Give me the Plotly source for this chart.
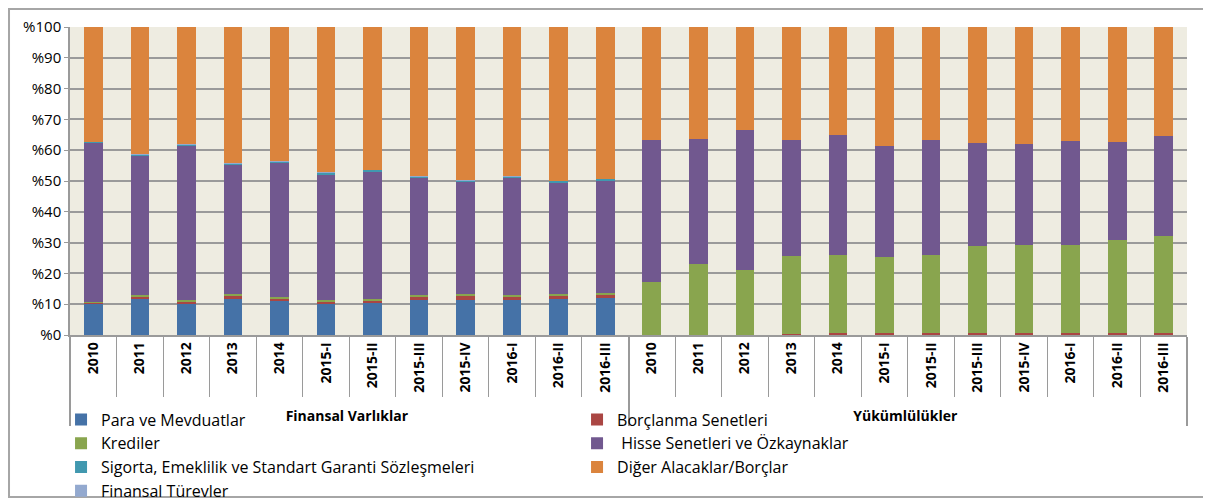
import plotly.graph_objects as go

# --------------------------- DATA ---------------------------

periods = ["2010", "2011", "2012", "2013", "2014", "2015-I", "2015-II",
           "2015-III", "2015-IV", "2016-I", "2016-II", "2016-III"]
groups = ["Finansal Varlıklar", "Yükümlülükler"]

# shares (%) – first 12 values: Finansal Varlıklar, last 12: Yükümlülükler
para_mevduat = [10.1, 11.65, 10.0, 11.7, 11.0, 10.2, 10.4, 11.5, 11.5, 11.4, 11.6, 12.1,
                0, 0, 0, 0, 0, 0, 0, 0, 0, 0, 0, 0]
borclanma = [0.5, 1.0, 1.0, 1.2, 0.9, 0.8, 0.8, 1.0, 1.3, 1.0, 1.1, 1.0,
             0, 0, 0, 0.4, 0.5, 0.5, 0.5, 0.5, 0.5, 0.7, 0.7, 0.7]
krediler = [0.2, 0.3, 0.5, 0.4, 0.5, 0.5, 0.6, 0.6, 0.4, 0.6, 0.5, 0.5,
            17.3, 23.2, 21.0, 25.3, 25.6, 24.7, 25.6, 28.4, 28.8, 28.5, 30.3, 31.3]
hisse = [51.6, 45.3, 50.0, 42.2, 43.5, 40.7, 41.4, 38.0, 36.6, 38.1, 36.2, 36.7,
         46.1, 40.4, 45.4, 37.5, 38.8, 36.2, 37.1, 33.4, 32.8, 33.7, 31.6, 32.5]
sigorta = [0.3, 0.3, 0.3, 0.3, 0.4, 0.5, 0.4, 0.4, 0.4, 0.4, 0.6, 0.4,
           0, 0, 0, 0, 0, 0, 0, 0, 0, 0, 0, 0]
turev = [0.1, 0.1, 0.1, 0.1, 0.1, 0.1, 0.1, 0.1, 0.1, 0.1, 0.1, 0.1,
         0, 0, 0, 0, 0, 0, 0, 0, 0, 0, 0, 0]
diger = [37.2, 41.4, 38.1, 44.1, 43.6, 47.2, 46.3, 48.4, 49.7, 48.4, 49.9, 49.2,
         36.6, 36.4, 33.6, 36.8, 35.1, 38.6, 36.8, 37.7, 37.9, 37.1, 37.4, 35.5]

y_ticks = [0, 10, 20, 30, 40, 50, 60, 70, 80, 90, 100]
y_tick_text = ["%0", "%10", "%20", "%30", "%40", "%50", "%60", "%70", "%80", "%90", "%100"]

# --------------------------- FIGURE ---------------------------

x_level1 = [groups[0]] * len(periods) + [groups[1]] * len(periods)
x_level2 = periods + periods

# (name, values, colour, legend rank) – trace order is stacking order
series = [
    ("Para ve Mevduatlar", para_mevduat, "#4572A7", 1),
    ("Borçlanma Senetleri", borclanma, "#AA4643", 2),
    ("Krediler", krediler, "#89A54E", 3),
    (" Hisse Senetleri ve Özkaynaklar", hisse, "#71588F", 4),
    ("Sigorta, Emeklilik ve Standart Garanti Sözleşmeleri", sigorta, "#4198AF", 5),
    ("Finansal Türevler", turev, "#93A9CF", 7),
    ("Diğer Alacaklar/Borçlar", diger, "#DB843D", 6),
]

fig = go.Figure()
for name, vals, color, rank in series:
    fig.add_trace(go.Bar(
        x=[x_level1, x_level2],
        y=vals,
        name=name,
        marker=dict(color=color, line=dict(width=0)),
        legendrank=rank,
    ))

# page body has an 8px margin, so layout is shifted up/left by 8px
fig.update_layout(
    width=1211,
    height=500,
    barmode="stack",
    bargap=0.6,
    paper_bgcolor="white",
    plot_bgcolor="#EEECE1",
    font=dict(family="Open Sans, Arial, sans-serif", color="#000000"),
    margin=dict(l=62, r=32, t=19, b=173, autoexpand=False),
    showlegend=True,
    legend=dict(
        orientation="h",
        traceorder="normal",
        xref="container",
        yref="container",
        x=0.0438,
        xanchor="left",
        y=0.211,
        yanchor="top",
        entrywidth=471,
        entrywidthmode="pixels",
        font=dict(size=16),
        bgcolor="rgba(0,0,0,0)",
        itemclick=False,
    ),
    xaxis=dict(
        type="multicategory",
        tickangle=-90,
        tickfont=dict(size=14, weight="bold"),
        ticks="outside",
        tickson="boundaries",
        ticklen=60,
        tickcolor="#9A9A9A",
        showline=True,
        linecolor="#9A9A9A",
        linewidth=1.5,
        showdividers=True,
        dividercolor="#9A9A9A",
        dividerwidth=1.5,
        showgrid=False,
    ),
    yaxis=dict(
        range=[0, 100],
        tickvals=y_ticks,
        ticktext=y_tick_text,
        tickfont=dict(size=15),
        ticks="outside",
        ticklen=4,
        tickcolor="#9A9A9A",
        showline=True,
        linecolor="#9A9A9A",
        linewidth=1.5,
        gridcolor="#9A9A9A",
        gridwidth=1.5,
        zeroline=False,
    ),
    shapes=[
        dict(type="rect", xref="paper", yref="paper",
             x0=-0.0546, x1=1.0197, y0=-0.526, y1=1.0584,
             line=dict(color="#A6A6A6", width=2), fillcolor="rgba(0,0,0,0)",
             layer="below"),
    ],
)

fig.write_html("out.html")
